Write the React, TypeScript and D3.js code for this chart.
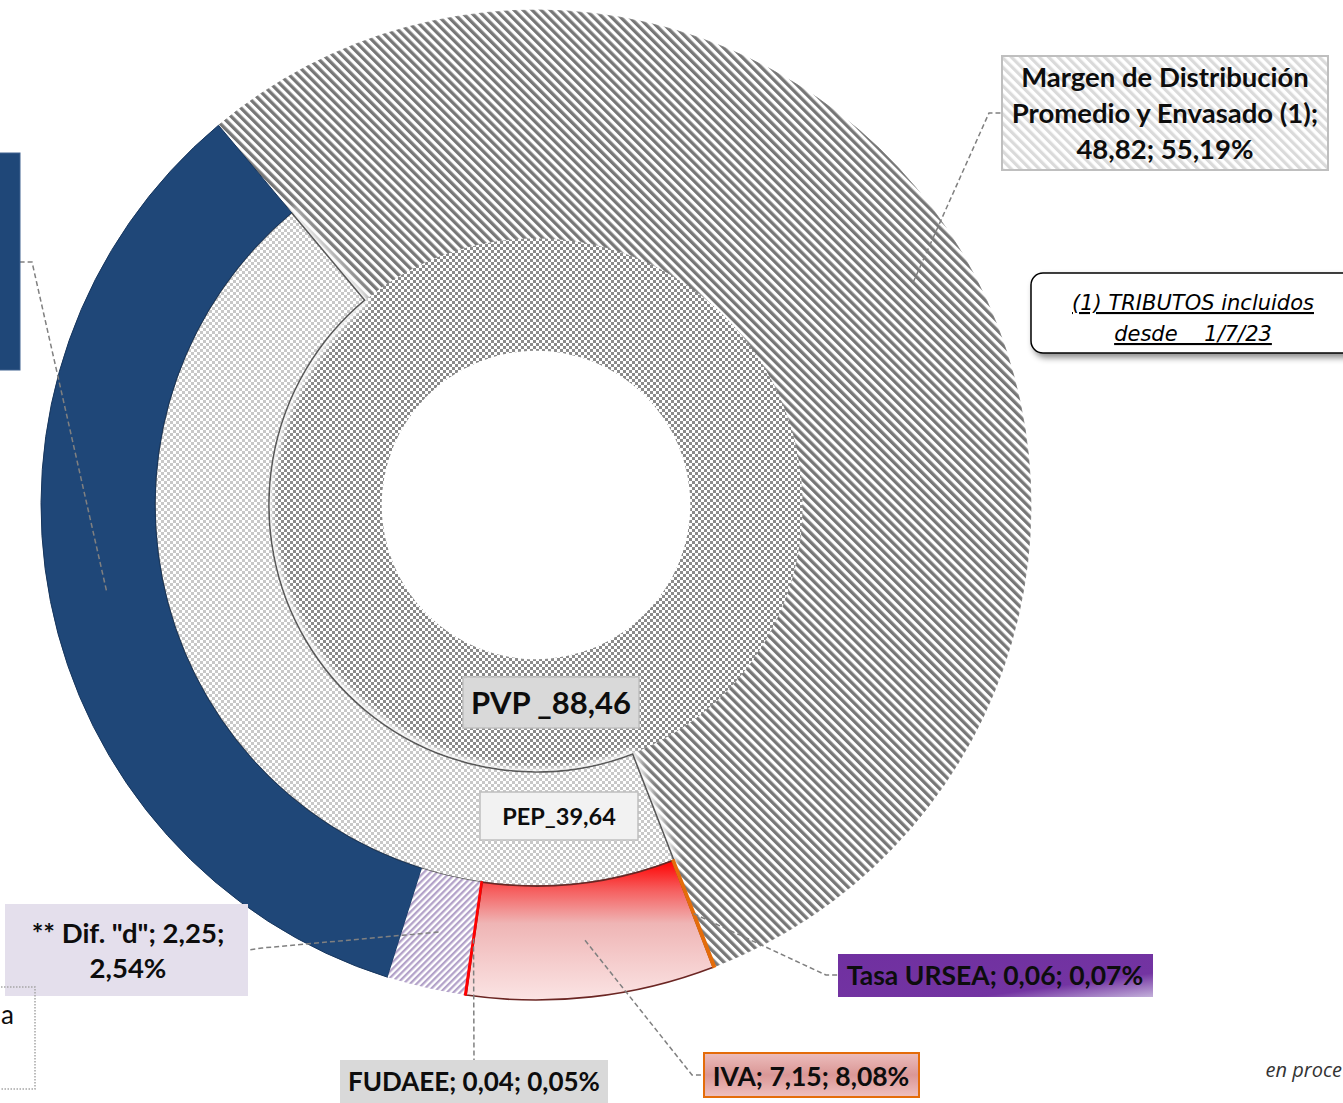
import React from "react";
import * as d3 from "d3";

// ---- data ----
const outerNames = [
  "Margen de Distribución Promedio y Envasado (1)",
  "Tasa URSEA",
  "IVA",
  "FUDAEE",
  '** Dif. "d"',
  "Precio",
];
const outerValues = [48.82, 0.06, 7.15, 0.04, 2.25, 30.14];
const middleNames = ["Margen de Distribución Promedio y Envasado (1)", "PEP"];
const middleValues = [48.82, 39.64];
const innerNames = ["PVP"];
const innerValues = [88.46];
const noteLines = ["(1) TRIBUTOS incluidos", "desde    1/7/23"];
const footnote = "en proce";
const clippedText = "a";

// ---- layout ----
const W = 1343;
const H = 1103;
const CX = 536;
const CY = 505;
const R_HOLE = 154;
const R1 = 267;
const R2 = 381;
const R3 = 495;
const START = (-39.9 * Math.PI) / 180;

const fmt = (v: number) => v.toFixed(2).replace(".", ",");

export default function App() {
  const total = d3.sum(outerValues);
  const pie = d3
    .pie<number>()
    .sort(null)
    .value((d) => d)
    .startAngle(START)
    .endAngle(START + 2 * Math.PI);

  const outerArcs = pie(outerValues);
  const middleArcs = pie(middleValues);
  const innerArcs = pie(innerValues);

  const arcOuter = d3.arc<d3.PieArcDatum<number>>().innerRadius(R2).outerRadius(R3);
  const arcMiddle = d3.arc<d3.PieArcDatum<number>>().innerRadius(R1).outerRadius(R2);
  const arcInner = d3.arc<d3.PieArcDatum<number>>().innerRadius(R_HOLE).outerRadius(R1);

  const pct = (v: number) => fmt((v / total) * 100) + "%";

  const iM = 0, iU = 1, iIVA = 2, iF = 3, iD = 4, iB = 5;
  const c = (i: number) => {
    const [x, y] = arcOuter.centroid(outerArcs[i]);
    return [x + CX, y + CY];
  };

  const marginLines = [
    "Margen de Distribución",
    "Promedio y Envasado (1);",
    `${fmt(outerValues[iM])}; ${pct(outerValues[iM])}`,
  ];
  const difLines = [
    `${outerNames[iD]}; ${fmt(outerValues[iD])};`,
    pct(outerValues[iD]),
  ];
  const fudaeeLabel = `${outerNames[iF]}; ${fmt(outerValues[iF])}; ${pct(outerValues[iF])}`;
  const ivaLabel = `${outerNames[iIVA]}; ${fmt(outerValues[iIVA])}; ${pct(outerValues[iIVA])}`;
  const urseaLabel = `${outerNames[iU]}; ${fmt(outerValues[iU])}; ${pct(outerValues[iU])}`;
  const pvpLabel = `${innerNames[0]} _${fmt(innerValues[0])}`;
  const pepLabel = `${middleNames[1]}_${fmt(middleValues[1])}`;

  const leader = (pts: number[][]) => pts.map((p) => p.join(",")).join(" ");
  const leaderStyle = {
    fill: "none",
    stroke: "#808080",
    strokeWidth: 1.5,
    strokeDasharray: "5 3",
  } as React.CSSProperties;

  const bold = { fontFamily: "Lato, sans-serif", fontWeight: 700, fill: "#0d0d0d" } as React.CSSProperties;

  return (
    <svg
      width={W}
      height={H}
      style={{ position: "absolute", left: 0, top: 0, display: "block", background: "#fff" }}
    >
      <defs>
        <pattern id="stripe" patternUnits="userSpaceOnUse" width={6.4} height={6.4} patternTransform="rotate(-45)">
          <rect width={6.4} height={6.4} fill="#ffffff" />
          <rect width={3.3} height={6.4} fill="#777777" />
        </pattern>
        <pattern id="stripeLight" patternUnits="userSpaceOnUse" width={6.6} height={6.6} patternTransform="rotate(-45)">
          <rect width={6.6} height={6.6} fill="#ffffff" />
          <rect width={3.2} height={6.6} fill="#dadada" />
        </pattern>
        <pattern id="lav" patternUnits="userSpaceOnUse" width={4.6} height={4.6} patternTransform="rotate(45)">
          <rect width={4.6} height={4.6} fill="#ffffff" />
          <rect width={2.3} height={4.6} fill="#b3a2c9" />
        </pattern>
        <pattern id="checkDark" patternUnits="userSpaceOnUse" width={6} height={6}>
          <rect width={6} height={6} fill="#ffffff" />
          <rect x={0} y={0} width={3} height={3} fill="#8a8a8a" />
          <rect x={3} y={3} width={3} height={3} fill="#8a8a8a" />
        </pattern>
        <pattern id="checkLight" patternUnits="userSpaceOnUse" width={6} height={6}>
          <rect width={6} height={6} fill="#ffffff" />
          <rect x={0} y={0} width={3} height={3} fill="#c8c8c8" />
          <rect x={3} y={3} width={3} height={3} fill="#c8c8c8" />
        </pattern>
        <linearGradient id="ivaGrad" x1="0" y1="0" x2="0" y2="1">
          <stop offset="0" stopColor="#ff0000" />
          <stop offset="0.2" stopColor="#f65a5a" />
          <stop offset="0.45" stopColor="#efb5b5" />
          <stop offset="1" stopColor="#fbe4e4" />
        </linearGradient>
        <linearGradient id="ivaBox" x1="0" y1="0" x2="0" y2="1">
          <stop offset="0" stopColor="#ecbdbc" />
          <stop offset="0.5" stopColor="#da9796" />
          <stop offset="1" stopColor="#efc0bf" />
        </linearGradient>
        <linearGradient id="urseaBox" x1="0" y1="0" x2="1" y2="1">
          <stop offset="0" stopColor="#7030a0" />
          <stop offset="0.72" stopColor="#7334a2" />
          <stop offset="1" stopColor="#c3b0da" />
        </linearGradient>
        <filter id="glow" x="-20%" y="-20%" width="140%" height="140%">
          <feMorphology in="SourceAlpha" operator="dilate" radius={3} result="d" />
          <feGaussianBlur in="d" stdDeviation={3} result="b" />
          <feFlood floodColor="#fafafa" />
          <feComposite in2="b" operator="in" result="g" />
          <feMerge>
            <feMergeNode in="g" />
            <feMergeNode in="SourceGraphic" />
          </feMerge>
        </filter>
        <filter id="shadow" x="-10%" y="-20%" width="130%" height="160%">
          <feDropShadow dx={3} dy={4} stdDeviation={3} floodColor="#000" floodOpacity={0.45} />
        </filter>
      </defs>

      {/* chart */}
      <g transform={`translate(${CX},${CY})`}>
        {innerArcs.map((a, i) => (
          <path key={"in" + i} d={arcInner(a) || ""} fill="url(#checkDark)" />
        ))}
        {/* margin spans middle + outer ring */}
        <path d={arcMiddle(middleArcs[0]) || ""} fill="url(#stripe)" stroke="url(#stripe)" strokeWidth={0.8} />
        <path d={arcOuter(outerArcs[iM]) || ""} fill="url(#stripe)" stroke="url(#stripe)" strokeWidth={0.8} />
        <path
          d={arcMiddle(middleArcs[1]) || ""}
          fill="url(#checkLight)"
          stroke="#595959"
          strokeWidth={1.6}
          filter="url(#glow)"
        />
        <path d={arcOuter(outerArcs[iB]) || ""} fill="#1f4778" stroke="#17365d" strokeWidth={1} />
        <path d={arcOuter(outerArcs[iD]) || ""} fill="url(#lav)" />
        <path d={arcOuter(outerArcs[iIVA]) || ""} fill="url(#ivaGrad)" stroke="#6b2623" strokeWidth={1.6} />
        <path d={arcOuter(outerArcs[iF]) || ""} fill="#ff0000" stroke="#ff0000" strokeWidth={1.6} />
        <path d={arcOuter(outerArcs[iU]) || ""} fill="#e46c0a" stroke="#e46c0a" strokeWidth={2} />
      </g>

      {/* leader lines */}
      <polyline points={leader([c(iM), [989, 113], [1002, 113]])} style={leaderStyle} />
      <polyline points={leader([c(iB), [32, 262], [20, 262]])} style={leaderStyle} />
      <polyline points={leader([c(iD), [262, 948], [248, 950]])} style={leaderStyle} />
      <polyline points={leader([c(iF), [474, 1061]])} style={leaderStyle} />
      <polyline points={leader([c(iIVA), [692, 1075], [704, 1075]])} style={leaderStyle} />
      <polyline points={leader([c(iU), [826, 975], [838, 975]])} style={leaderStyle} />

      {/* margin label */}
      <rect x={1002} y={56} width={326} height={114} fill="url(#stripeLight)" stroke="#bfbfbf" strokeWidth={2} />
      {marginLines.map((t, i) => (
        <text key={t} x={1165} y={87 + i * 36} textAnchor="middle" fontSize={27.5} style={bold}>
          {t}
        </text>
      ))}

      {/* note box */}
      <rect x={1031} y={273} width={400} height={80} rx={12} ry={12} fill="#fff" stroke="#000" strokeWidth={1.5} filter="url(#shadow)" />
      {noteLines.map((t, i) => (
        <text
          key={t}
          x={1193}
          y={310 + i * 31}
          textAnchor="middle"
          fontSize={21}
          fontStyle="italic"
          textDecoration="underline"
          style={{ fontFamily: "'DejaVu Sans', sans-serif", whiteSpace: "pre", fill: "#000" }}
        >
          {t}
        </text>
      ))}

      {/* blue label (clipped) */}
      <rect x={-10} y={153} width={30} height={217} fill="#1f4778" stroke="#41628f" strokeWidth={1} />

      {/* dif label */}
      <rect x={5} y={904} width={243} height={92} fill="#e4dfec" />
      {difLines.map((t, i) => (
        <text key={t} x={128} y={943 + i * 35} textAnchor="middle" fontSize={27.5} style={bold}>
          {t}
        </text>
      ))}

      {/* clipped dotted box */}
      <rect x={-20} y={987} width={55} height={102} fill="none" stroke="#a6a6a6" strokeWidth={1.5} strokeDasharray="1.5 1.5" />
      <text x={14} y={1024} textAnchor="end" fontSize={26} style={{ fontFamily: "Lato, sans-serif", fill: "#0d0d0d" }}>
        {clippedText}
      </text>

      {/* FUDAEE */}
      <rect x={340} y={1060} width={268} height={45} fill="#d9d9d9" />
      <text x={474} y={1091} textAnchor="middle" fontSize={26} style={bold}>
        {fudaeeLabel}
      </text>

      {/* IVA */}
      <rect x={704} y={1053} width={215} height={44} fill="url(#ivaBox)" stroke="#e46c0a" strokeWidth={2} />
      <text x={811} y={1086} textAnchor="middle" fontSize={26.5} style={bold}>
        {ivaLabel}
      </text>

      {/* URSEA */}
      <rect x={838} y={954} width={315} height={43} fill="url(#urseaBox)" />
      <text x={995} y={985} textAnchor="middle" fontSize={26.5} style={bold}>
        {urseaLabel}
      </text>

      {/* PVP */}
      <rect x={463} y={677} width={176} height={51} fill="#d9d9d9" stroke="#bfbfbf" strokeWidth={1.5} />
      <text x={551} y={714} textAnchor="middle" fontSize={31} style={bold}>
        {pvpLabel}
      </text>

      {/* PEP */}
      <rect x={480} y={792} width={158} height={48} fill="#f2f2f2" stroke="#bfbfbf" strokeWidth={1.5} />
      <text x={559} y={825} textAnchor="middle" fontSize={23.5} style={bold}>
        {pepLabel}
      </text>

      {/* footnote */}
      <text x={1342} y={1077} textAnchor="end" fontSize={20} fontStyle="italic" style={{ fontFamily: "'Open Sans', sans-serif", fill: "#333" }}>
        {footnote}
      </text>
    </svg>
  );
}
